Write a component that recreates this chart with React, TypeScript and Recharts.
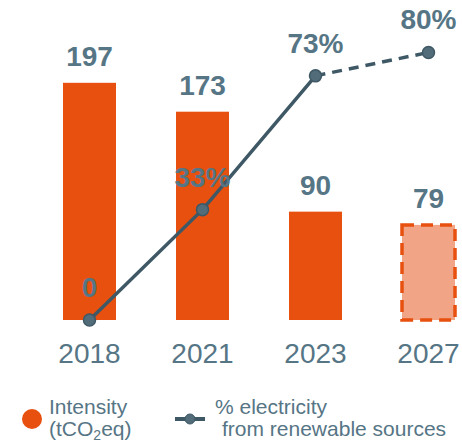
import React from "react";
import {
  ComposedChart,
  Bar,
  Line,
  XAxis,
  YAxis,
  LabelList,
} from "recharts";

const years = ["2018", "2021", "2023", "2027"];
const intensity = [197, 173, 90, 79];
const renewableShare = [0, 33, 73, 80];
const projected = [false, false, false, true];

const ORANGE = "#E8500F";
const ORANGE_LIGHT = "#F2A586";
const SLATE = "#3F5866";
const DOT = "#526C79";
const TEXT = "#567585";
const FONT = '"Liberation Sans", Arial, sans-serif';

const data = years.map((year, i) => ({
  year,
  intensity: intensity[i],
  share: renewableShare[i],
  projected: projected[i],
  actualShare: projected[i] ? null : renewableShare[i],
  projShare: projected[i] || projected[i + 1] ? renewableShare[i] : null,
}));

const IntensityBar = (props: any) => {
  const { x, y, width, height, payload } = props;
  if (payload && payload.projected) {
    return (
      <rect
        x={x}
        y={y}
        width={width}
        height={height}
        fill={ORANGE_LIGHT}
        stroke={ORANGE}
        strokeWidth={3.5}
        strokeDasharray="12 7"
      />
    );
  }
  return <rect x={x} y={y} width={width} height={height} fill={ORANGE} />;
};

// legend drawn as plain html so it doesn't eat into the plot area
const ChartLegend = () => (
  <div
    style={{
      position: "absolute",
      left: 0,
      top: 396,
      width: 462,
      height: 50,
      fontFamily: FONT,
      color: TEXT,
    }}
  >
    <div
      style={{
        position: "absolute",
        left: 22,
        top: 13,
        width: 20,
        height: 20,
        borderRadius: "50%",
        background: ORANGE,
      }}
    />
    <div style={{ position: "absolute", left: 49, top: 0, fontSize: 21, lineHeight: "22px" }}>
      <div>Intensity</div>
      <div>
        (tCO<sub style={{ fontSize: 14, verticalAlign: "-4px", lineHeight: 0 }}>2</sub>eq)
      </div>
    </div>
    <svg style={{ position: "absolute", left: 175, top: 17 }} width={32} height={12}>
      <line x1={0} y1={6} x2={30} y2={6} stroke={SLATE} strokeWidth={4} />
      <circle cx={15} cy={6} r={5} fill={DOT} stroke={SLATE} strokeWidth={1} />
    </svg>
    <div
      style={{
        position: "absolute",
        left: 215,
        top: 0,
        fontSize: 21,
        lineHeight: "22px",
        whiteSpace: "nowrap",
      }}
    >
      <div>% electricity</div>
      <div style={{ paddingLeft: 7 }}>from renewable sources</div>
    </div>
  </div>
);

export default function App() {
  return (
    <div
      style={{
        position: "absolute",
        left: 0,
        top: 0,
        width: 462,
        height: 446,
        overflow: "hidden",
        background: "#fff",
      }}
    >
      <ComposedChart
        width={500}
        height={446}
        data={data}
        margin={{ top: 19, right: 15, bottom: 76, left: 33 }}
      >
        <XAxis
          dataKey="year"
          axisLine={false}
          tickLine={false}
          tickSize={0}
          tickMargin={23}
          height={50}
          tick={{ fill: TEXT, fontSize: 28, fontFamily: FONT }}
        />
        <YAxis yAxisId="left" hide domain={[0, 250]} />
        <YAxis yAxisId="right" orientation="right" hide domain={[0, 90]} />
        <Bar
          yAxisId="left"
          dataKey="intensity"
          barSize={53}
          shape={IntensityBar}
          isAnimationActive={false}
        >
          <LabelList
            dataKey="intensity"
            position="top"
            offset={17}
            fill={TEXT}
            fontSize={28}
            fontWeight="bold"
            fontFamily={FONT}
          />
        </Bar>
        <Line
          yAxisId="right"
          dataKey="actualShare"
          stroke={SLATE}
          strokeWidth={3.5}
          dot={false}
          activeDot={false}
          isAnimationActive={false}
        />
        <Line
          yAxisId="right"
          dataKey="projShare"
          stroke={SLATE}
          strokeWidth={3.5}
          strokeDasharray="10 7"
          dot={false}
          activeDot={false}
          isAnimationActive={false}
        />
        <Line
          yAxisId="right"
          dataKey="share"
          stroke="none"
          dot={{ r: 6, fill: DOT, stroke: SLATE, strokeWidth: 1.5 }}
          activeDot={false}
          isAnimationActive={false}
        >
          <LabelList
            dataKey="share"
            position="top"
            offset={23}
            fill={TEXT}
            fontSize={28}
            fontWeight="bold"
            fontFamily={FONT}
            formatter={(v: any) => (v === 0 ? "0" : `${v}%`)}
          />
        </Line>
      </ComposedChart>
      <ChartLegend />
    </div>
  );
}
